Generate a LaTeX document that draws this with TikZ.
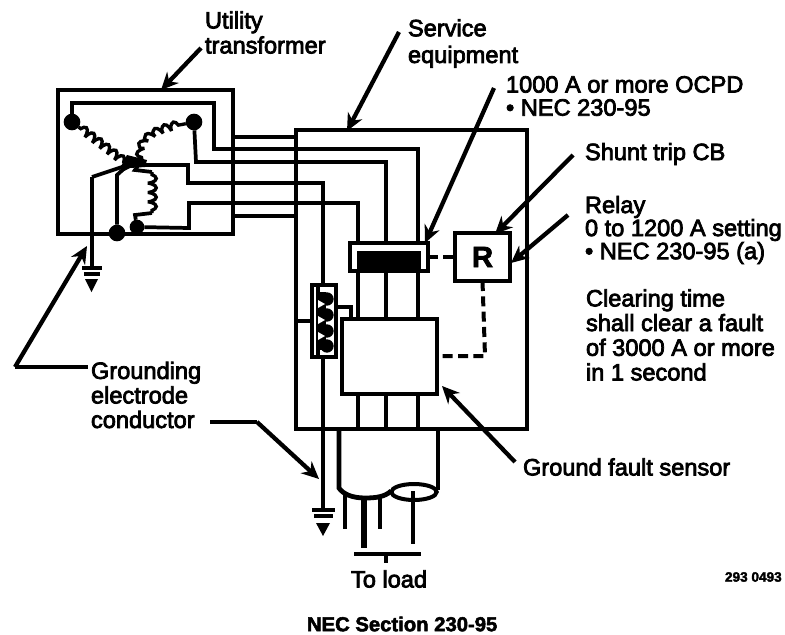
\documentclass[tikz,border=0pt]{standalone}
\usepackage{fontspec}
\setmainfont{Liberation Sans}
\newfontfamily\lab[FakeBold=3.2]{Liberation Sans}
\newfontfamily\labb[FakeBold=2.5]{Liberation Sans Bold}
\usetikzlibrary{arrows.meta,decorations.pathmorphing,shapes.geometric}
\tikzset{
  boxn/.style={draw,line width=3pt,inner sep=0pt,outer sep=0pt,fill=white},
  wire/.style={line width=2.8pt,line join=miter},
  thick wire/.style={line width=3.6pt},
  dotn/.style={circle,fill=black,inner sep=0pt,outer sep=0pt,minimum size=12.5pt},
  leader/.style={line width=3.2pt,-{Stealth[length=13pt,width=12pt]}},
  plainlead/.style={line width=2.6pt},
  dashw/.style={line width=3pt,dash pattern=on 7.5pt off 4pt},
  coilw/.style={line width=2.5pt,decorate,decoration={coil,aspect=0.35,segment length=7pt,amplitude=3.2pt,pre length=2pt,post length=2pt}},
  txt/.style={font=\lab\fontsize{17.7}{17.3}\selectfont,align=left,anchor=west,inner sep=0pt,outer sep=0pt,text=black},
  gbar/.style={line width=2.6pt},
}
\begin{document}
\begin{tikzpicture}[x=0.75pt,y=-0.75pt]
\useasboundingbox (0,0) rectangle (785,635);
\fill[white] (0,0) rectangle (785,635);

% boxes
\node[boxn,fill=none,minimum width=131.25pt,minimum height=107.25pt] (xfer) at (145,162) {};
\node[boxn,fill=none,minimum width=173.25pt,minimum height=224.25pt] (svc) at (411.5,279.5) {};

% transformer internals
\node[dotn] (d1) at (72,122) {};
\node[dotn] (d2) at (194,122) {};
\node[dotn] (d3) at (117,233) {};
\node[dotn,minimum size=11pt] (d4) at (137,227) {};
\coordinate (c) at (128,165);
\coordinate (c1) at (142,160);
\coordinate (cg) at (92,177);
\fill (120,168) -- (127,155) -- (147,160) -- (145,167) -- (130,168) -- (122,172) -- cycle;

\draw[coilw] (d1) -- (c);
\draw[coilw] (c1) .. controls (136,135) and (165,128) .. (d2);
\draw[coilw] (152,172) -- (152,213);
\draw[wire] (c1) -- (135,170) -- (152,172);
\draw[wire] (152,213) -- (135,215) -- (d4);
\draw[wire] (c) -- (cg);

% utility conductors
\coordinate (w1) at (296,137);
\coordinate (w6) at (296,216);
\coordinate (x1) at (233,137);
\coordinate (x6) at (233,216);
\coordinate (w2) at (418,243);
\coordinate (w3) at (386,243);
\coordinate (w4) at (323,285);
\coordinate (w5) at (358,243);
\draw[thick wire] (x1) -- (w1);
\draw[wire] (x6) -- (w6);
\draw[wire] (d1) -- (72,103) -- (214,103) -- (214,149) -- (418,149) -- (w2);
\draw[wire] (d2) -- (196,162) -- (386,162) -- (w3);
\draw[wire] (140,165) -- (188,165) -- (188,183) -- (323,183) -- (w4);
\draw[wire] (d4) -- (189,228) -- (189,203) -- (358,203) -- (w5);
\draw[wire] (d3) -- (117,175) -- (c);

% breaker
\node[boxn,minimum width=58.5pt,minimum height=21pt] (cb) at (389,257) {};
\node[fill=black,inner sep=0pt,outer sep=0pt,minimum width=48pt,minimum height=14pt] (cbi) at (389,260) {};
% relay
\node[boxn,minimum width=41.25pt,minimum height=36pt,font=\labb\fontsize{22}{22}\selectfont] (relay) at (482.5,257) {R};
% sensor
\node[boxn,minimum width=71.25pt,minimum height=56.25pt] (gfs) at (389.5,356.5) {};
% neutral bar
\node[boxn,minimum width=18pt,minimum height=54pt] (bar) at (324,321) {};
\fill (316,287) rectangle (320,355);
\foreach \n/\yy in {a/299,b/315,c/331,d/346} {
  \node[dotn,minimum size=10pt] (bar\n) at (327,\yy) {};
}
\fill (317,292) rectangle (326,350);
\foreach \yy in {304,320,336} {
  \fill[white] (318,\yy-4) -- (318,\yy+4) -- (325,\yy) -- cycle;
}

% breaker to sensor
\coordinate (s1) at (358,319);
\coordinate (s2) at (386,319);
\coordinate (s3) at (418,319);
\coordinate (b1) at (358,271);
\coordinate (b2) at (386,271);
\coordinate (b3) at (418,271);
\draw[wire,line width=3.3pt] (b1) -- (s1);
\draw[wire] (b2) -- (s2);
\draw[wire,line width=3.3pt] (b3) -- (s3);
% bar connections
\draw[wire] (bar.east |- 0,307) -- (351,307) -- (351,319);
\coordinate (bl) at (297,321);
\draw[wire] (bl) -- (bar.west |- bl);

% sensor to box bottom
\coordinate (t1) at (358,429);
\coordinate (t2) at (386,429);
\coordinate (t3) at (418,429);
\coordinate (u1) at (358,394);
\coordinate (u2) at (386,394);
\coordinate (u3) at (418,394);
\draw[wire,line width=3.3pt] (u1) -- (t1);
\draw[wire] (u2) -- (t2);
\draw[wire,line width=3.3pt] (u3) -- (t3);

% dashed controls
\draw[dashw] (cb.east) -- (relay.west);
\draw[dashw] (relay.south) -- (485,356) -- (gfs.east |- 0,356);

% grounds
\coordinate (g1) at (92,268);
\draw[wire] (cg) -- (g1);
\draw[gbar] (82,268) -- (102,268);
\draw[gbar] (84,274) -- (100,274);
\fill (85,279) -- (98,279) -- (91.5,292) -- cycle;
\coordinate (g2) at (323,510);
\draw[wire,line width=3.3pt] (bar.south -| g2) -- (g2);
\draw[gbar] (312,510) -- (335,510);
\draw[gbar] (314,516) -- (333,516);
\fill (316,523) -- (330,523) -- (323,536) -- cycle;

% cable
\draw[line width=3.6pt] (339,429) -- (339,488) .. controls (343,494) and (352,498) .. (365,498) .. controls (375,498) and (385,497) .. (391,491);
\draw[line width=3pt] (438,429) -- (438,490);
\node[draw,line width=3pt,ellipse,inner sep=0pt,outer sep=0pt,minimum width=34pt,minimum height=12pt] (ell) at (414,492) {};
\draw[line width=2.6pt] (345,494) -- (345,529);
\draw[line width=4pt] (364,498) -- (364,548);
\draw[line width=3.4pt] (380,497) -- (380,529);
\draw[line width=3pt] (413,491) -- (413,544);
\draw[line width=2.6pt] (354,554) -- (421,554);
\draw[line width=2.6pt] (386,554) -- (386,563);

% leaders
\coordinate (lu) at (201,48);
\coordinate (ls) at (399,32);
\coordinate (lo) at (494,88);
\coordinate (lc) at (573,155);
\coordinate (lr) at (568,215);
\coordinate (lf) at (515,462);
\coordinate (lg) at (15,367);
\coordinate (lh) at (257,422);
\draw[leader] (lu) -- (161,90);
\draw[leader] (ls) -- (347,131);
\draw[leader] (lo) -- (425,243);
\draw[leader] (lc) -- (495,234);
\draw[leader] (lr) -- (511,263);
\draw[leader] (lf) -- (442,386);
\draw[leader] (lg) -- (87,246);
\draw[leader] (lh) -- (319,479);

% labels
\node[txt,font=\lab\fontsize{17.7}{18.75}\selectfont] (tu) at (205,32.5) {Utility\\transformer};
\node[txt,font=\lab\fontsize{17.7}{20}\selectfont] (ts) at (408,43.5) {Service\\equipment};
\node[txt] (to) at (506,96) {1000 A or more OCPD\\\textbullet\ NEC 230-95};
\node[txt] (tc) at (585,154) {Shunt trip CB};
\node[txt] (tr) at (585,230) {Relay\\0 to 1200 A setting\\\textbullet\ NEC 230-95 (a)};
\node[txt,font=\lab\fontsize{17.7}{18.5}\selectfont] (tt) at (586,335) {Clearing time\\shall clear a fault\\of 3000 A or more\\in 1 second};
\node[txt,font=\lab\fontsize{17.7}{18.4}\selectfont] (tg) at (91,395) {Grounding\\electrode\\conductor};
\node[txt] (tf) at (523,467) {Ground fault sensor};
\node[txt] (tl) at (351,579) {To load};
\node[txt,font=\labb\fontsize{10.2}{10}\selectfont] (tn) at (725,577) {293 0493};
\node[txt,font=\labb\fontsize{15.2}{15}\selectfont] (tit) at (307,624) {NEC Section 230-95};
\coordinate (ga) at (88,367);
\coordinate (gb) at (210,422);
\draw[plainlead] (lg) -- (ga);
\draw[plainlead] (gb) -- (lh);
\end{tikzpicture}
\end{document}
